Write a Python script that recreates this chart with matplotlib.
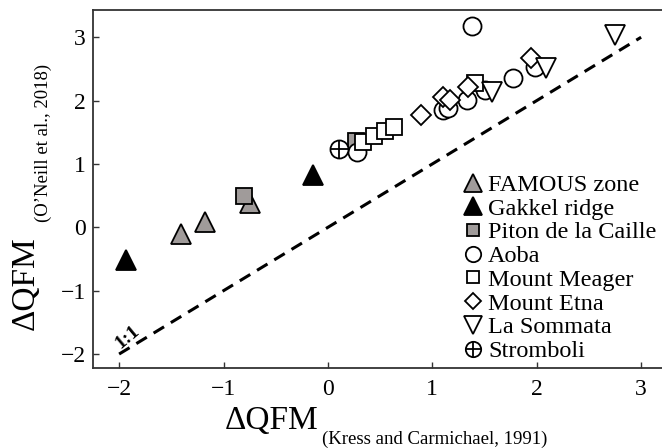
import matplotlib
matplotlib.use("Agg")
import matplotlib.pyplot as plt
from matplotlib.lines import Line2D

plt.rcParams['font.family'] = ['Liberation Serif', 'DejaVu Serif']

# data: (dQFM Kress & Carmichael, dQFM O'Neill)
famous_x = [-1.41, -1.18, -0.75]
famous_y = [-0.10, 0.08, 0.38]
gakkel_x = [-1.93, -0.14]
gakkel_y = [-0.52, 0.83]
piton_x = [-0.80, 0.27]
piton_y = [0.49, 1.36]
aoba_x = [0.28, 1.38, 1.10, 1.15, 1.33, 1.50, 1.77, 1.98]
aoba_y = [1.19, 3.18, 1.85, 1.89, 2.01, 2.17, 2.36, 2.53]
meager_x = [0.34, 0.44, 0.55, 0.63, 1.41]
meager_y = [1.35, 1.44, 1.52, 1.59, 2.28]
etna_x = [0.89, 1.10, 1.17, 1.34, 1.95]
etna_y = [1.77, 2.06, 2.01, 2.21, 2.67]
sommata_x = [1.57, 2.09, 2.75]
sommata_y = [2.14, 2.51, 3.04]
stromboli_x = [0.11]
stromboli_y = [1.24]

gray = '#a09b9a'
ew = 1.3

fig = plt.figure(figsize=(6.62, 4.48), dpi=100)
ax = fig.add_axes([0.1405, 0.1786, 0.8595, 0.7991])

ax.plot([-2, 3], [-2, 3], color='black', lw=2.2, ls=(0, (4, 2.6)), zorder=1)
ax.text(-1.92, -1.74, '1:1', rotation=40, fontsize=14, fontweight='bold',
        ha='center', va='center', zorder=2)

ax.plot(famous_x, famous_y, '^', ms=15, mfc=gray, mec='black', mew=ew, ls='none', label='FAMOUS zone')
ax.plot(gakkel_x, gakkel_y, '^', ms=15, mfc='black', mec='black', mew=ew, ls='none', label='Gakkel ridge')
ax.plot(piton_x, piton_y, 's', ms=11, mfc=gray, mec='black', mew=ew, ls='none', label='Piton de la Caille')
ax.plot(aoba_x, aoba_y, 'o', ms=13, mfc='white', mec='black', mew=ew, ls='none', label='Aoba')
ax.plot(meager_x, meager_y, 's', ms=11, mfc='white', mec='black', mew=ew, ls='none', label='Mount Meager')
ax.plot(etna_x, etna_y, 'D', ms=10, mfc='white', mec='black', mew=ew, ls='none', label='Mount Etna')
ax.plot(sommata_x, sommata_y, 'v', ms=15, mfc='white', mec='black', mew=ew, ls='none', label='La Sommata')
ax.plot(stromboli_x, stromboli_y, 'o', ms=13, mfc='white', mec='black', mew=ew, ls='none', label='Stromboli')
ax.plot(stromboli_x, stromboli_y, '+', ms=13, mec='black', mew=ew, ls='none')

ax.set_xlim(-2.25, 3.2)
ax.set_ylim(-2.22, 3.43)
ticks = [-2, -1, 0, 1, 2, 3]
tick_labels = ['\u22122', '\u22121', '0', '1', '2', '3']
ax.set_xticks(ticks)
ax.set_yticks(ticks)
ax.set_xticklabels(tick_labels)
ax.set_yticklabels(tick_labels)
ax.tick_params(direction='in', length=4, width=1, labelsize=17, color='#333333')
ax.tick_params(axis='x', pad=8)
ax.tick_params(axis='y', pad=5)
ax.spines['right'].set_visible(False)
for s in ['left', 'top', 'bottom']:
    ax.spines[s].set_color('#333333')
    ax.spines[s].set_linewidth(1.3)

fig.text(272 / 662, 1 - 421 / 448, '\u0394QFM', fontsize=24, ha='center', va='center')
fig.text(322 / 662, 1 - 439 / 448, '(Kress and Carmichael, 1991)', fontsize=13.5, ha='left', va='center')
fig.text(26 / 662, 1 - 283 / 448, '\u0394QFM', fontsize=24, ha='center', va='center', rotation=90)
fig.text(43 / 662, 1 - 143 / 448, "(O\u2019Neill et al., 2018)", fontsize=13.5, ha='center', va='center', rotation=90)

handles, labels = ax.get_legend_handles_labels()
# stromboli legend handle: circle with plus
handles[-1] = (handles[-1], Line2D([], [], marker='+', ms=13, mec='black', mew=ew, ls='none'))
leg = ax.legend(handles, labels, loc='upper left', bbox_to_anchor=(461 / 662, 1 - 174 / 448),
                bbox_transform=fig.transFigure, frameon=False, borderaxespad=0, borderpad=0,
                handlelength=1.0, handletextpad=0.12, labelspacing=0.07, fontsize=17.5,
                markerscale=0.85)

fig.savefig('out.png', dpi=100)
